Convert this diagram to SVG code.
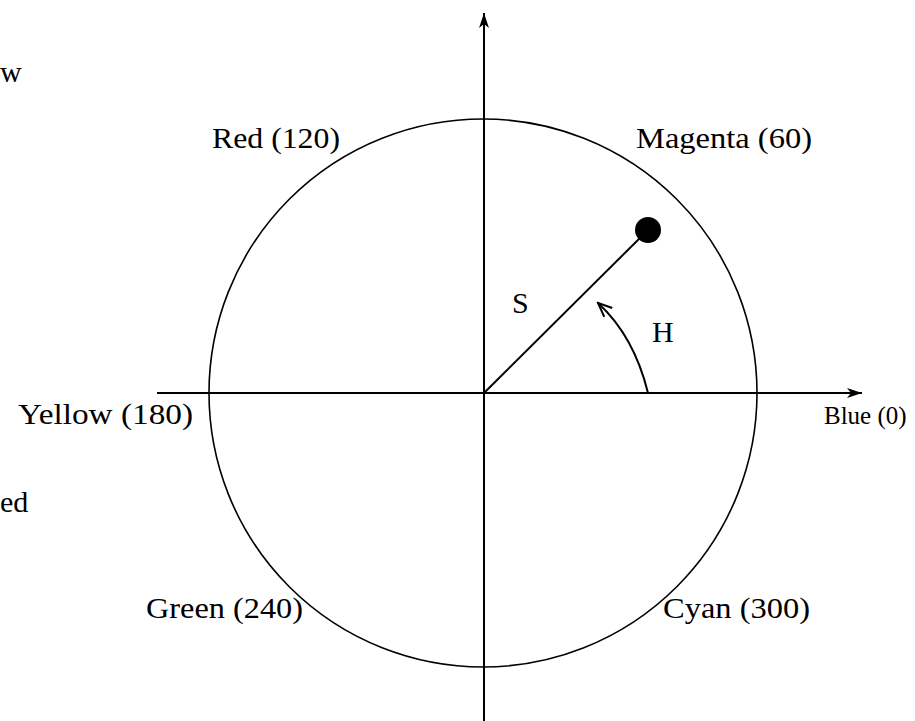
<svg xmlns="http://www.w3.org/2000/svg" width="915" height="721" viewBox="0 0 915 721">
<defs>
<style>
.t{font-family:"Liberation Serif","Times New Roman",serif;font-size:30px;fill:#000}
.ln{stroke:#000;stroke-width:2;fill:none}
</style>
<marker id="ah" markerWidth="16" markerHeight="12" refX="15" refY="6" orient="auto" markerUnits="userSpaceOnUse">
<path d="M0,1 L15,6 L0,11 L4,6 Z" fill="#000"/>
</marker>
<marker id="ah2" markerWidth="16" markerHeight="14" refX="14" refY="7" orient="auto" markerUnits="userSpaceOnUse">
<path d="M0,1 L14,7 L0,13" fill="none" stroke="#000" stroke-width="2"/>
</marker>
</defs>
<rect width="915" height="721" fill="#fff"/>
<g id="connectors">
<line class="ln" x1="157" y1="393" x2="862" y2="393" marker-end="url(#ah)"/>
<line class="ln" x1="484" y1="721" x2="484" y2="13" marker-end="url(#ah)"/>
<line class="ln" x1="484" y1="393" x2="648" y2="230" stroke-width="1.5"/>
<path class="ln" d="M648,393 Q634,336 598,303" stroke-width="1.8" marker-end="url(#ah2)"/>
</g>
<g id="circle"><circle cx="483" cy="393" r="274" fill="none" stroke="#000" stroke-width="1.6"/></g>
<g id="point"><circle cx="648" cy="230" r="13" fill="#000"/></g>
<g id="labels">
<text class="t" x="212" y="148" textLength="128" lengthAdjust="spacingAndGlyphs">Red (120)</text>
<text class="t" x="636" y="148" textLength="176" lengthAdjust="spacingAndGlyphs">Magenta (60)</text>
<text class="t" x="18" y="424" textLength="175" lengthAdjust="spacingAndGlyphs">Yellow (180)</text>
<text class="t" x="824" y="424" style="font-size:25px">Blue (0)</text>
<text class="t" x="146" y="618" textLength="157" lengthAdjust="spacingAndGlyphs">Green (240)</text>
<text class="t" x="663" y="618" textLength="147" lengthAdjust="spacingAndGlyphs">Cyan (300)</text>
<text class="t" x="512" y="313">S</text>
<text class="t" x="652" y="342">H</text>
<text class="t" x="0" y="82">w</text>
<text class="t" x="0" y="512">ed</text>
</g>
</svg>
